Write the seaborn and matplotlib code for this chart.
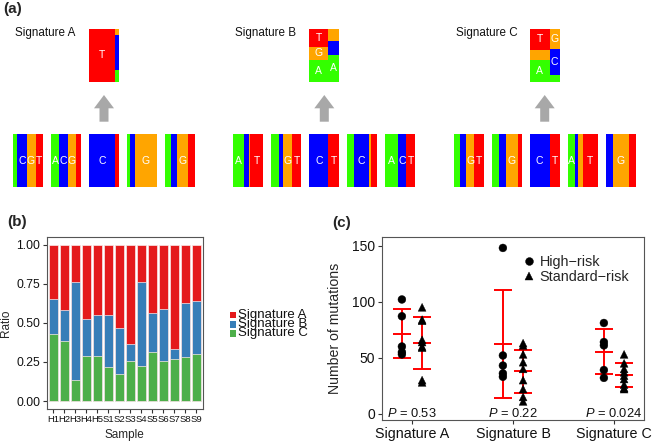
import numpy as np
import pandas as pd
import matplotlib
matplotlib.use("Agg")
import matplotlib.pyplot as plt
import seaborn as sns
from matplotlib.patches import Rectangle, Polygon

sns.set_theme(style="ticks")
plt.rcParams['font.family'] = ['Liberation Sans', 'DejaVu Sans']
plt.rcParams['mathtext.fontset'] = 'custom'
plt.rcParams['mathtext.it'] = 'Liberation Sans:italic'
plt.rcParams['mathtext.rm'] = 'Liberation Sans'

# ---------------- panel (a) data ----------------
bases = ["A", "C", "G", "T"]
base_colors = ["#33FF00", "#0000FF", "#FFA500", "#FF0000"]
sig_names = ["Signature A", "Signature B", "Signature C"]

# top logos: two columns, fractions in order A, C, G, T (stacked bottom -> top)
sigA_logo_cols = [[0, 0, 0, 1.0], [0.217, 0.669, 0.115, 0]]
sigA_logo_widths = [0.856, 0.144]
sigA_logo_labels = ["T", ""]
sigB_logo_cols = [[0.414, 0, 0.255, 0.331], [0.51, 0.268, 0.222, 0]]
sigB_logo_widths = [0.633, 0.367]
sigB_logo_labels = ["AGT", "A"]
sigC_logo_cols = [[0.414, 0, 0.191, 0.395], [0.134, 0.484, 0.382, 0]]
sigC_logo_widths = [0.66, 0.34]
sigC_logo_labels = ["AT", "CG"]

# bottom boxes: fractions A, C, G, T (left -> right)
sigA_boxes = [[0.14, 0.31, 0.30, 0.25], [0.272, 0.283, 0.283, 0.162],
              [0, 0.86, 0, 0.14], [0.10, 0.165, 0.735, 0], [0.198, 0.209, 0.351, 0.242]]
sigA_box_labels = ["CGT", "ACG", "C", "G", "G"]
sigB_boxes = [[0.352, 0.176, 0.044, 0.428], [0.261, 0.13, 0.304, 0.305],
              [0, 0.633, 0, 0.367], [0.209, 0.527, 0.055, 0.209], [0.429, 0.253, 0, 0.318]]
sigB_box_labels = ["AT", "GT", "CT", "C", "ACT"]
sigC_boxes = [[0.209, 0.198, 0.285, 0.308], [0.231, 0.231, 0.428, 0.11],
              [0, 0.67, 0, 0.33], [0.253, 0.077, 0.165, 0.505], [0, 0.242, 0.538, 0.22]]
sigC_box_labels = ["GT", "G", "CT", "AT", "G"]

# ---------------- panel (b) data ----------------
samples = ["H1", "H2", "H3", "H4", "H5", "S1", "S2", "S3", "S4", "S5", "S6", "S7", "S8", "S9"]
ratio_A = [0.350, 0.416, 0.237, 0.473, 0.448, 0.452, 0.535, 0.633, 0.239, 0.435, 0.412, 0.667, 0.373, 0.362]
ratio_B = [0.224, 0.200, 0.629, 0.239, 0.262, 0.333, 0.292, 0.111, 0.537, 0.252, 0.334, 0.067, 0.346, 0.338]
ratio_C = [0.426, 0.384, 0.134, 0.288, 0.290, 0.215, 0.173, 0.256, 0.224, 0.313, 0.254, 0.266, 0.281, 0.300]
stack_colors = ["#E41A1C", "#377EB8", "#4DAF4A"]

# ---------------- panel (c) data ----------------
categories = ["Signature A", "Signature B", "Signature C"]
groups = ["High\u2212risk", "Standard\u2212risk"]
high_A = [102, 87, 60, 55, 53]
std_A = [95, 84, 83, 66, 64, 60, 59, 30, 28]
high_B = [148, 52, 43, 36, 33]
std_B = [63, 61, 53, 46, 40, 30, 22, 15, 11]
high_C = [81, 64, 61, 39, 32]
std_C = [53, 45, 40, 37, 34, 31, 26, 23, 22]
p_values = ["0.53", "0.22", "0.024"]

# ---------------- figure ----------------
W, H = 652, 444
fig = plt.figure(figsize=(W / 100, H / 100), dpi=100)


def rect(l, t, r, b):
    return [l / W, 1 - b / H, (r - l) / W, (b - t) / H]


# panel (a) in pixel coordinates
ax_a = fig.add_axes([0, 0, 1, 1])
ax_a.set_xlim(0, W)
ax_a.set_ylim(H, 0)
ax_a.axis("off")

group_x0 = [13, 233.3, 453.7]
box_w, box_h, box_pitch, box_top = 30, 53, 38, 134
logo_top = 29
logo_sets = [(sigA_logo_cols, sigA_logo_widths, sigA_logo_labels),
             (sigB_logo_cols, sigB_logo_widths, sigB_logo_labels),
             (sigC_logo_cols, sigC_logo_widths, sigC_logo_labels)]
box_sets = [(sigA_boxes, sigA_box_labels), (sigB_boxes, sigB_box_labels), (sigC_boxes, sigC_box_labels)]

for gi, gx in enumerate(group_x0):
    ax_a.text(gx + 2, 33.3, sig_names[gi], ha="left", va="center", fontsize=8.4, color="#111111")
    # top logo
    cols, widths, labs = logo_sets[gi]
    lx = gx + 2 * box_pitch
    for col, wf, lab in zip(cols, widths, labs):
        cw = wf * box_w
        y = logo_top + box_h
        for b, f, c in zip(bases, col, base_colors):
            if f <= 0:
                continue
            hh = f * box_h
            ax_a.add_patch(Rectangle((lx, y - hh), cw, hh, facecolor=c, edgecolor="none"))
            if b in lab:
                ax_a.text(lx + cw / 2, y - hh / 2, b, color="white", ha="center", va="center", fontsize=7.5)
            y -= hh
        lx += cw
    # arrow
    cx = gx + 2 * box_pitch + box_w / 2
    ax_a.add_patch(Polygon([(cx - 4.5, 121.7), (cx - 4.5, 108.3), (cx - 10, 108.3), (cx, 95),
                            (cx + 10, 108.3), (cx + 4.5, 108.3), (cx + 4.5, 121.7)],
                           closed=True, facecolor="#A8A8A8", edgecolor="none"))
    # bottom boxes
    boxes, blabs = box_sets[gi]
    for bi, (fr, lab) in enumerate(zip(boxes, blabs)):
        x = gx + bi * box_pitch
        for b, f, c in zip(bases, fr, base_colors):
            if f <= 0:
                continue
            ww = f * box_w
            ax_a.add_patch(Rectangle((x, box_top), ww, box_h, facecolor=c, edgecolor="none"))
            if b in lab:
                ax_a.text(x + ww / 2, box_top + box_h / 2, b, color="white", ha="center", va="center", fontsize=7.5)
            x += ww

# panel (b) legend (manual, tightly packed labels as in the original)
leg_rows = [315, 324.2, 333.4]
for name, c, yy in zip(sig_names, stack_colors, leg_rows):
    ax_a.add_patch(Rectangle((229.5, yy - 3.3), 6.6, 6.6, facecolor=c, edgecolor="none"))
    ax_a.text(237.5, yy, name, ha="left", va="center", fontsize=9.5, color="#111111")

# panel labels
fig.text(3 / W, 1 - 2 / H, "(a)", fontsize=11, fontweight="bold", ha="left", va="top")
fig.text(7 / W, 1 - 215 / H, "(b)", fontsize=11, fontweight="bold", ha="left", va="top")
fig.text(332 / W, 1 - 216.5 / H, "(c)", fontsize=11, fontweight="bold", ha="left", va="top")

# ---------------- panel (b) ----------------
ax_b = fig.add_axes(rect(46.7, 236.7, 202.7, 409.3))
df_b = pd.DataFrame({"sample": samples, "A": ratio_A, "B": ratio_B, "C": ratio_C})
df_b["top_A"] = df_b["A"] + df_b["B"] + df_b["C"]
df_b["top_B"] = df_b["B"] + df_b["C"]
df_b["top_C"] = df_b["C"]
for col, c in zip(["top_A", "top_B", "top_C"], stack_colors):
    sns.barplot(data=df_b, x="sample", y=col, color=c, saturation=1, width=0.8,
                edgecolor="#FBEAEA", linewidth=0.5, ax=ax_b)
ax_b.set_xlim(-0.6, 13.6)
ax_b.set_ylim(-0.053, 1.051)
ax_b.set_yticks([0, 0.25, 0.5, 0.75, 1.0])
ax_b.set_yticklabels(["0.00", "0.25", "0.50", "0.75", "1.00"])
ax_b.set_xlabel("Sample", fontsize=8.5)
ax_b.set_ylabel("Ratio", fontsize=8.5)
ax_b.xaxis.set_label_coords(0.5, -0.115)
ax_b.yaxis.set_label_coords(-0.225, 0.5)
ax_b.tick_params(axis="y", labelsize=8.7, length=3, width=0.8, color="#333333", pad=1.5, labelcolor="#111111")
ax_b.tick_params(axis="x", labelsize=6.8, length=3, width=0.8, color="#333333", pad=1, labelcolor="#111111")
for s in ax_b.spines.values():
    s.set_visible(True)
    s.set_color("#555555")
    s.set_linewidth(0.8)

# ---------------- panel (c) ----------------
ax_c = fig.add_axes(rect(381.7, 237.3, 644.3, 420))
values = [(high_A, std_A), (high_B, std_B), (high_C, std_C)]
rows = []
for ci, cat in enumerate(categories):
    for gi, g in enumerate(groups):
        for v in values[ci][gi]:
            rows.append({"signature": cat, "group": g, "value": v,
                         "xpos": ci + 1 + (-0.1 if gi == 0 else 0.1)})
df_c = pd.DataFrame(rows)

stats = df_c.groupby(["signature", "group"]).agg(xpos=("xpos", "first"), mean=("value", "mean"),
                                                  sd=("value", "std")).reset_index()
ax_c.errorbar(stats["xpos"], stats["mean"], yerr=stats["sd"], fmt="_", color="#FF0000",
              markersize=12.7, mew=1.4, elinewidth=1.4, capsize=6.35, capthick=1.4, zorder=2)

sns.scatterplot(data=df_c, x="xpos", y="value", style="group", style_order=groups,
                markers={groups[0]: "o", groups[1]: "^"}, color="black", edgecolor="black",
                s=32, linewidth=0.3, ax=ax_c, zorder=3)

for ci, p in enumerate(p_values):
    ax_c.text(ci + 1, 0, "$P$ = " + p, ha="center", va="center", fontsize=9.3, color="#111111")

ax_c.set_xlim(0.7, 3.3)
ax_c.set_ylim(-5.6, 157.5)
ax_c.set_xticks([1, 2, 3])
ax_c.set_xticklabels(categories)
ax_c.set_yticks([0, 50, 100, 150])
ax_c.set_xlabel("")
ax_c.set_ylabel("Number of mutations", fontsize=10.2)
ax_c.yaxis.set_label_coords(-0.15, 0.5)
ax_c.tick_params(axis="both", labelsize=10, length=3, width=0.8, color="#333333", pad=2, labelcolor="#111111")
ax_c.tick_params(axis="x", labelsize=10.3)
for s in ax_c.spines.values():
    s.set_visible(True)
    s.set_color("#555555")
    s.set_linewidth(0.8)

leg = ax_c.legend(loc="upper left", bbox_to_anchor=(0.535, 0.905), frameon=False, fontsize=10.4,
                  handletextpad=0.2, labelspacing=0.12, borderaxespad=0, borderpad=0,
                  handlelength=1.0, markerscale=1.0)

fig.savefig("out.png", dpi=100)
